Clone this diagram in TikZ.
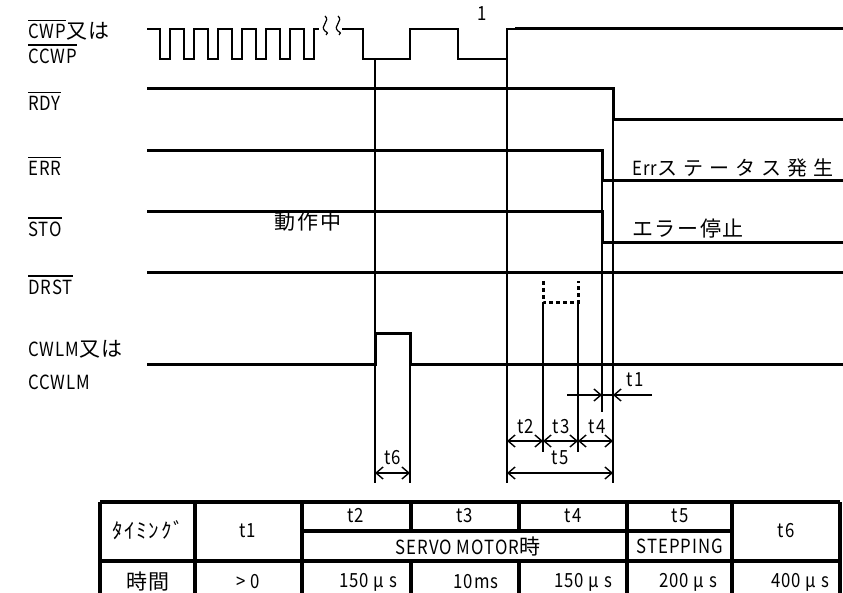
\documentclass[tikz,border=0pt]{standalone}
\usepackage{fontspec}
\setmainfont{Noto Sans CJK JP}[LetterSpace=5, FakeStretch=0.86]
\newfontfamily\jpfont{Noto Sans CJK JP}[LetterSpace=8]
\newfontfamily\jpwide{Noto Sans CJK JP}[LetterSpace=30]
\usetikzlibrary{arrows.meta}

\newcommand{\jp}[1]{{\jpfont\fontsize{21}{24}\selectfont #1}}
\newcommand{\ovl}[1]{\vbox{\hrule height 1.4pt\kern 3pt\hbox{#1}}}

\begin{document}
\begin{tikzpicture}[x=1pt, y=-1pt, line join=miter,
  sig/.style={line width=3pt},
  pulse/.style={line width=2pt},
  guide/.style={line width=1.8pt},
  dim/.style={line width=1.4pt},
  tab/.style={line width=3.4pt},
  barb/.tip={Straight Barb[length=7pt,width=12pt]},
  lbl/.style={anchor=west, inner sep=0pt},
  every node/.style={font=\fontsize{19.5}{22}\selectfont}]
  \useasboundingbox (0,0) rectangle (843,593);
  \clip (0,0) rectangle (843,593);

  % Signal names on the left.
  \node[lbl] (cwp) at (28,30) {\ovl{CWP}\jp{又は}};
  \node[lbl] (ccwp) at (28,54) {\ovl{CCWP}};
  \node[lbl] (rdy) at (28,101) {\ovl{RDY}};
  \node[lbl] (err) at (28,166) {\ovl{ERR}};
  \node[lbl] (sto) at (28,227) {\ovl{STO}};
  \node[lbl] (drst) at (28,285) {\ovl{DRST}};
  \node[lbl] (cwlm) at (28,349) {CWLM\jp{又は}};
  \node[lbl] (ccwlm) at (28,382) {CCWLM};

  % Pulse train with break marks, then the last pulses.
  \draw[pulse] (147,29) foreach \i in {0,...,6} {
      -- ({160+24*\i},29) -- ({160+24*\i},59) -- ({170+24*\i},59) -- ({170+24*\i},29) } -- (319,29);
  \draw[line width=1.2pt] (325,16) .. controls (331,21) and (319,26) .. (325,31) .. controls (328,33) .. (326,35);
  \draw[line width=1.2pt] (338,16) .. controls (344,21) and (332,26) .. (338,31) .. controls (341,33) .. (339,35);
  \draw[pulse] (342,29) -- (363,29) -- (363,59) -- (410,59) -- (410,29) -- (458,29)
    -- (458,59) -- (507,59) -- (507,29) -- (843,29);
  \draw[sig] (515,29) -- (843,29);
  \node (one) at (482,14) {1};

  % Output and input levels.
  \draw[sig] (147,89) -- (613,89) -- (613,120) -- (843,120);
  \draw[sig] (147,151) -- (602,151) -- (602,181) -- (843,181);
  \draw[sig] (147,212) -- (602,212) -- (602,243) -- (843,243);
  \draw[sig] (147,273) -- (843,273);
  \draw[sig, dash pattern=on 4pt off 3pt] (543,281) -- (543,303) -- (578,303) -- (578,281);
  \draw[sig] (147,365) -- (375,365) -- (375,334) -- (410,334) -- (410,365) -- (843,365);

  \node[lbl] (errst) at (632,168) {Err{\jpwide\fontsize{20}{23}\selectfont ステータス発生}};
  \node[lbl] (stop) at (632,229) {\jp{エラー停止}};
  \node (busy) at (308,222) {\jp{動作中}};

  % Timing guides.
  \draw[guide] (375,59) -- (375,483);
  \draw[guide] (410,334) -- (410,483);
  \draw[guide] (507,29) -- (507,483);
  \draw[guide] (613,89) -- (613,483);
  \draw[guide] (602,151) -- (602,412);
  \draw[guide] (543,303) -- (543,452);
  \draw[guide] (578,303) -- (578,452);

  % Dimensions.
  \draw[dim, -barb] (567,395) -- (602,395);
  \draw[dim, -barb] (652,395) -- (613,395);
  \draw[dim] (602,395) -- (613,395);
  \node (t1) at (635,380) {t1};
  \draw[dim, barb-barb] (507,441) -- (543,441);
  \draw[dim, barb-barb] (543,441) -- (578,441);
  \draw[dim, barb-barb] (578,441) -- (613,441);
  \node (t2) at (526,427) {t2};
  \node (t3) at (561,427) {t3};
  \node (t4) at (597,427) {t4};
  \draw[dim, barb-barb] (507,473) -- (613,473);
  \node (t5) at (560,458) {t5};
  \draw[dim, barb-barb] (375,473) -- (410,473);
  \node (t6) at (393,458) {t6};

  % Table of timings.
  \draw[tab] (100,502) -- (840,502);
  \draw[tab] (100,561) -- (840,561);
  \draw[tab] (302,531) -- (732,531);
  \foreach \x in {100,195,302,627,732,840}
    \draw[tab] (\x,502) -- (\x,600);
  \foreach \x in {411,519} {
    \draw[tab] (\x,502) -- (\x,531);
    \draw[tab] (\x,561) -- (\x,600);
  }
  \node (hd) at (148,530) {\jp{ﾀｲﾐﾝｸﾞ}};
  \node (h1) at (248,531) {t1};
  \node (h2) at (356,516) {t2};
  \node (h3) at (465,516) {t3};
  \node (h4) at (573,516) {t4};
  \node (h5) at (680,516) {t5};
  \node (servo) at (468,546) {SERVO MOTOR\jp{時}};
  \node (step) at (680,546) {STEPPING};
  \node (h6) at (786,531) {t6};
  \node (tm) at (148,582) {\jp{時間}};
  \node (v1) at (248,582) {> 0};
  \node (v2) at (368,582) {150 μ s};
  \node (v3) at (476,582) {10ms};
  \node (v4) at (583,582) {150 μ s};
  \node (v5) at (688,582) {200 μ s};
  \node (v6) at (800,582) {400 μ s};
\end{tikzpicture}
\end{document}
